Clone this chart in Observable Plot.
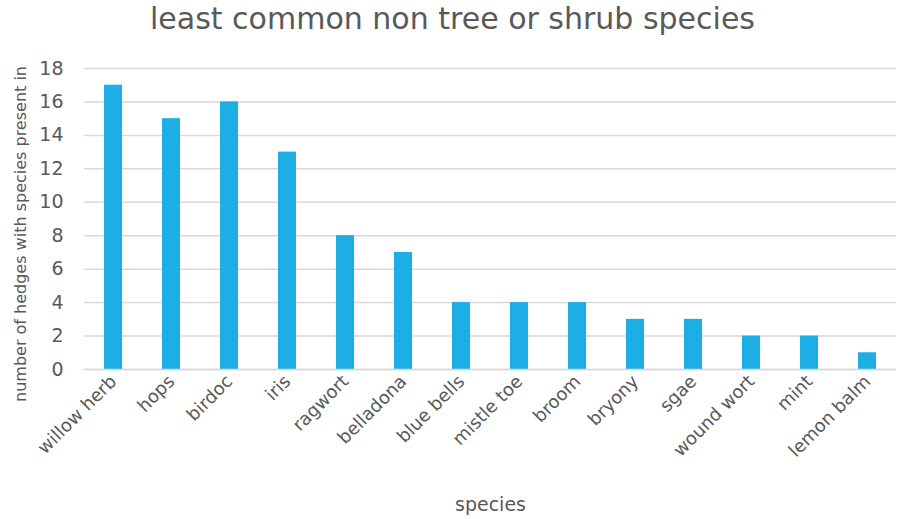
<!DOCTYPE html>
<html>
<head>
<meta charset="utf-8">
<script src="https://cdn.jsdelivr.net/npm/d3@7"></script>
<script src="https://cdn.jsdelivr.net/npm/@observablehq/plot@0.6"></script>
<style>
  body { margin: 0; background: #fff; font-family: "DejaVu Sans", sans-serif; }
  #title { height: 45px; line-height: 38px; text-align: center; font-size: 30px; color: #595959; }
  svg { display: block; }
</style>
</head>
<body>
<div id="title">least common non tree or shrub species</div>
<div id="chart"></div>
<script>
const species = ["willow herb", "hops", "birdoc", "iris", "ragwort", "belladona", "blue bells",
  "mistle toe", "broom", "bryony", "sgae", "wound wort", "mint", "lemon balm"];
const hedgeCounts = [17, 15, 16, 13, 8, 7, 4, 4, 4, 3, 3, 2, 2, 1];
const yTicks = [0, 2, 4, 6, 8, 10, 12, 14, 16, 18];

const data = species.map((s, i) => ({species: s, count: hedgeCounts[i]}));

const chart = Plot.plot({
  width: 905,
  height: 474,
  marginTop: 23,
  marginBottom: 150,
  marginLeft: 84,
  marginRight: 9,
  style: {fontFamily: "'DejaVu Sans', sans-serif", color: "#595959", background: "#fff"},
  x: {domain: species, paddingInner: 0.69, paddingOuter: 0.345, label: null},
  y: {domain: [0, 18], label: null},
  marks: [
    Plot.gridY(yTicks, {stroke: "#d9d9d9", strokeOpacity: 1, strokeWidth: 1.5}),
    Plot.barY(data, {x: "species", y: "count", fill: "#1eaee6"}),
    Plot.ruleY([0], {stroke: "#d9d9d9", strokeWidth: 1.5}),
    Plot.axisY(yTicks, {tickSize: 0, tickPadding: 21, fontSize: 19, fill: "#595959"}),
    Plot.axisX({tickSize: 0, tickRotate: -45, tickPadding: 9, fontSize: 18, fill: "#595959", textAnchor: "end"}),
    Plot.text(["species"], {frameAnchor: "bottom", dy: 141, fontSize: 19, fill: "#595959"}),
    Plot.text(["number of hedges with species present in"], {frameAnchor: "left", dx: -64, dy: 15, rotate: -90, textAnchor: "middle", fontSize: 16, fill: "#595959"})
  ]
});
document.getElementById("chart").appendChild(chart);
</script>
</body>
</html>
